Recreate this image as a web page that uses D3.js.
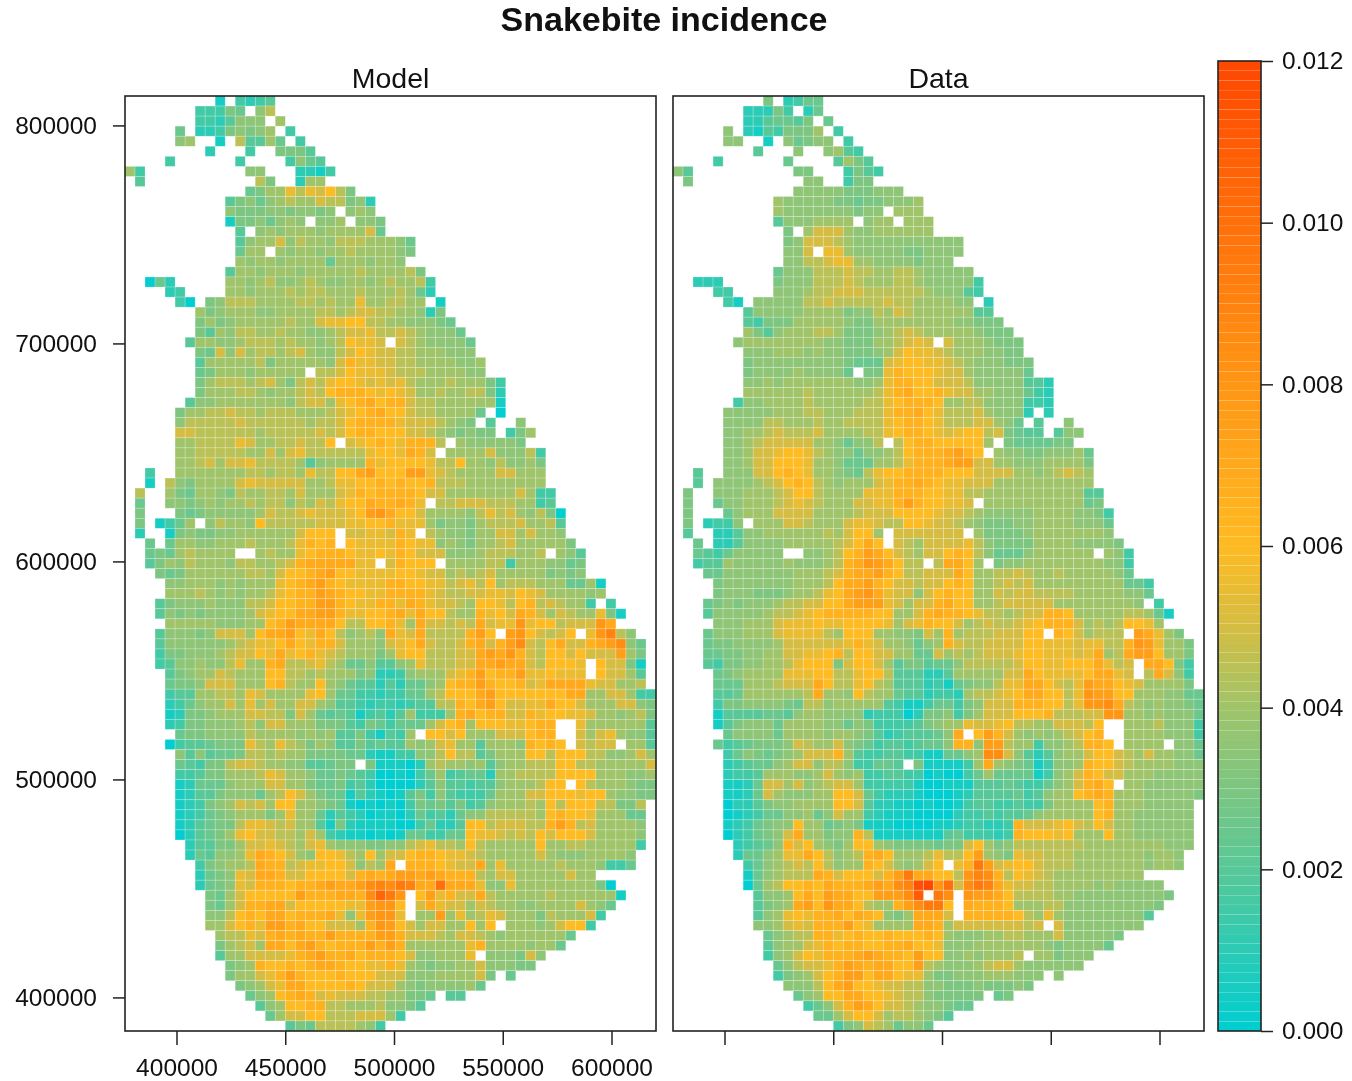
<!DOCTYPE html>
<html>
<head>
<meta charset="utf-8">
<title>Snakebite incidence</title>
<script src="https://cdnjs.cloudflare.com/ajax/libs/d3/7.9.0/d3.min.js"></script>
<style>
  html, body { margin: 0; background: #fff; }
  svg { display: block; font-family: "Liberation Sans", Arial, sans-serif; filter: blur(0.45px); }
</style>
</head>
<body>
<div id="chart"></div>
<script>
// values, one character per grid cell in units of 0.0005
// (0-9 then a-o, "." = no data). Each row starts at the column in rowStart,
// spaces are only there to keep the columns countable.
const rowStart = [9,7,7,5,5,8,4,0,1,12,10,10,10,11,11,11,11,10,2,4,5,7,7,7,6,7,7,7,7,7,6,5,5,5,5,5,5,2,2,1,1,1,1,1,2,2,2,3,4,4,3,3,4,3,3,3,3,4,4,4,4,4,4,5,4,5,5,5,5,5,5,5,5,5,6,6,7,7,7,8,8,8,8,9,9,9,10,10,11,12,13,14,16];

const modelRows = [
"1.3234","33365.79","3324777.8","5.22367678.3","78..1.94485.3","2...3..6664","3......3....3754",
"83..........77...2213","4...........96..288","5688b9bac96","467578988a99672","76667767767.787",
"16675787.778.776","4.78788878888a5","4788a7988799988875","588.87887889888876","87887888858887887",
"48878887888889888896","052..... 88789 77898 77887 89889 3","23.... 88788 89899 88898 88985 2",
"30. 67999 88889 98988 b8899 88 .1","86788 87788 88998 9aa99 88726","68678 88889 88abb cc998 877765",
"64879 98898 87789 aab99 a987775","4 88778 99989 88789 cbba . a9877775","65a7a 89989 a8779 acbaa 99888 777",
"48888 89688 8887a dbbaa 99888 8778","56888 78888 8.99a cbbba 99988 8877","68999 89a86 9a9bc cbaba b9888 988863",
"68889 98788 9a9cd ddcbc ba889 889962","4 77888 88887 9aa8b cdecd da998 888881","68 899a9 98999 8889a bcdec ca998 8885 .0",
"79 9999a 99999 9899a cdddd baaa9 876 .4..7","aa 99999 98999 99a9a cddcc caa98 76766 . 368","88 9999b a8899 a99c. abcdc bddd9 .8777 776",
"88 99999 88a8a b9999 99bcc beda. 8888a 77793","88 9a8aa b9999 84788 88dbc cccb9 9c887 97786",
"3.. 88 88888 99899 8b99c cefcc cffba 98888 aa888","1.9 76 8888a baaaa a889b bccdc dccd9 99888 88888",
"9..8 65 88769 88998 a888a bdcdd ddcaa 88888 88a833","5..7 76 78788 98997 98a9b ccedd edb.9 9aaa9 998834",
"6... 65 67777 78a99 abaaa bcfge cca88 8879b 9a87960","6.1358. 7988 7c999 99aaa bbccd bbb86 77689 99a8894",
"2..1 67 66778 88888 accc. aabba db.98 77688 aa8a887","5.5 88 77888 98889 bdcd. cbbbb dcbb7 87688 9a888886",
"565 89 8888. .8988 bcddd cbbcb dcaaa 77789 99889.874","46879 88879 9889a deeee ebb.a dccc. 88889 938887756",
"6568 88888 998ac cdefc cbbbb ccbaa 8989a 888886767","778 88787 888bc defdc bbbbd dccbb 9ab9c 89998885581",
"888 98787 889bc ddfed ccbbd dddba 99aab bacba888878","4677 78777 99acc ddffd cbbdd bedba a98cc b9cd9a9883.3",
"4767 67777 8abcc eeffd bbccd ebecc 988db caeda8a988b61","888 88777 88cdf eeeec 99ccd b8eaa 9a9ea bbgbcc9aaage",
"4777 67aaa 8ceef cbec9 7897e bae99 99dfc .fgca9ac.bgi97","4777 77789 abbce cbdda 8887a bcea9 9adea dfha9ceaadefh75",
"3667 7789a acbeb cdba9 88868 bcc99 9aaef egda9ccacaaaf86","3477 8779b 88de9 9ab98 55744 78b99 9aaee feea9cccb.caa61",
"467 88a98 88cc9 98988 86722 37888 abdfc ddfbbcbbb.caa84","566 7aaa8 88cd9 88c87 54424 25578 cddfd ccdabeeeebaa889",
"344 88998 ba888 8bc85 53323 35589 cccef cccccccee88aa833","235 788a8 b8a88 aa874 43233 23449 9dcef caabbecca888aa76",
"126 67888 aa996 a8545 41342 48333 8decd daadbccbba887896","236 67778 97aa8 88666 43653 5558a cd8cc cbbcdd..b8888884",
"56 67777 98888 78784 46314 38.cc ac888 aaacdd..a8ab8774","034 45666 b98b9 86874 46454 4878a b8848 887dcdc.a9aa.884",
"74 74556 99898 86666 55211 33779 c9946 888cc9ccc99778a8","54 3669a a9887 74456 6.611 10289 88784 788999cc9988888a",
"33 46688 89ba8 87556 54300 10358 34552 889999cccc888778","12 55578 88aa8 86556 34200 00247 44344 78889cc.c9888766",
"12 44677 7589c a8655 14210 14637 43335 888aacccbcc87766","12 3678a 9a8cc 88765 10101 03656 46347 88898c9ccc99669",
"12 35678 8868b 88524 32011 02534 25779 99998cdccb88855","12 45669 bba9a 88416 21111 00352 24cc9 aaa99dfd9a88887",
"02 4568b caa99 8a832 11010 15533 55cbb a9a9caccca88887","2 44668 aaba9 8ab87 77667 79ab9 98c98 8888c8899888883",
"2 54778 bedca 87ccb 98c8a acddc bba98 8888a877788887","36788 9edd9 abbcc a798e .dddc baae8 b8888898887335",
"2567b aeeda acccc adede ffefe ddd98 aa88888a88","2567b adddc ddefe efhih jieek eeeb7 7b8888888860",
"658a ccccc fddde edhlj g.cfb daae9 8888898888881","658a ddeea ccccc bbfgg c.aeb aa8a9 88778888a875",
"779c dceec dddeb 7bfgg b.88f 8b89b a88869888a3","88ac dbffd eccaa a8dgf ca8aa 88c8c .88878acc3",
"899 baded eddfd dddff daaa9 8aa98 78888885","689 a8eec efdcd ddfdf d8888 88bd8 8887885",
"488 aaaab defdd ecddd ca778 88b.7 776a7","67 8dccd cdeed ccbbd b8767 788a7 7766",
"68 8abdf dcccd cccaa a7778 888a6 .5","6 78abe ecccc dcaaa 87677 7785",
"578cd edaba aa998 8665 .44","478c cdd99 88897 764","58a acc99 9aaa8 3","4 65999 9873"
];

const dataRows = [
"6.2355","22263.25","2245546.5","7.21436668.3","77..1.75677.3","4...7..7843","3......5....4864",
"74..........66...3643","6...........77..366","77777666777","877777665667778","87777777677.888",
"47778888.788.888","6.8aaa877888888","67aaa9877777777777","77a.bb877777667777","7799abb8877776777",
"57779 99a99 88998 77777","222..... 67779 99a98 88998 77777 3","33.... 77789 9aaa9 99999 87774 3",
"31. 77777 99a99 999a9 98888 77.2","47777 78888 67798 a9888 88844","43666 88888 76688 88888 87766 6",
"86478 88998 66678 9a988 88876 66","7 88888 88877 66688 9aba. a8887 666","77788 87877 66678 acbba 98887 766",
"67777 77777 6555a bccbb a9877 7666","67777 87777 5.66b dcccb aa877 7775","77878 88888 8778b ddcca aa977 777442",
"88888 89888 8889b deccd baa88 777532","3 77888 89888 8899b cdddc 88997 777332","77 77788 89988 8999b ddecb 999a8 7772.2",
"77 77998 88988 9999b cddcb 999aa 875 .4..7","77 889a9 99a88 8899b cddcb abcc9 a6544 .477","77 89aaa aa887 5779. 9cddc cccc8 .6555 566",
"77 8aabc cb987 75778 9cddd efdc. 87766 77785","77 8aacc cb887 55588 9bddd effaa 88777 88886",
"4.. 77 7aacd cb887 659bc cdddd cccaa aa887 89a98","4.7 77 789ac dc987 888ab ddedc bbaaa 88888 88888",
"6..7 77 8889a cc988 88bbb dddcc bb998 88888 888844","6..5 77 8889a ba988 8aabb dfdcc bba.8 88888 888856",
"6... 57 888aa aa888 89aaa ccccb aa987 77778 8887763","6.2337. 888a a9888 abba9 9ccba a9876 66778 8887775",
"4..2 24 77888 88898 acc8. aaaaa aa.86 66678 8888887","5.2 24 77778 88889 acec. a98aa aab97 66668 88877776",
"543 57 7777. .7789 cdfec a98aa cdc97 55578 88888.873","344 87 77778 77789 degfe c99.9 eec8. 67788 888888773",
"5577 77777 8889a deefd c99aa aec88 99a98 898888875","677 77777 8889c eefdc aa9aa cdc88 9a9a8 88888888553",
"677 76667 889bc efgeb aa7ac dcc88 a9aa9 99988888775","5676 77789 9aacc efffb a8aad ecc88 9aaaa a888888887.3",
"4777 77899 abcdd dddcc 88ade ddcb9 989aa ddc88888 99851","777 888ab bbcbb ccccb 8abdc ca89a 99abc ddda8989ccb8",
"5777 888ab bbb98 ccc88 776a8 d8999 aaacc .dca8999.feb86","5667 7778a aaaaa bdba8 87578 da99a aaacc bbbabb99dgfb886",
"5566 7788a abbcd 9ccaa 8855a 8989a aabcc bbbabe89effc886","4366 77889 bccc6 acca8 46645 57999 99acc bbccceb9a.eec63",
"567 8888b bbcc9 9bcc9 44422 48888 8aaec bbbbceeba.9ea73","555 8889a aaec9 9bc98 44423 15677 9bbee ca9bfeecba88886",
"445 88888 89e88 7c988 54423 32899 abcee cc9bgffcc8887755","366 77776 59978 88884 31135 5367a aaddd cc9bgghe98787765",
"144 44554 78877 77233 30266 7368a aaccc d999aagg88787775","146 77758 88877 57633 33467 88baa bc998 8aaa9c..88897773",
"57 77758 88878 87642 34445 7e.cf da878 789acd..88887773","534 56667 a988a 76534 43455 7dd7f f9883 7789ddc.8888.775",
"35 76567 8aaad 84334 43311 5578h ha742 4788acca98a88775","23 45578 aa799 73355 4.611 1138e 87651 3778dcca98888777",
"23 34888 778a8 78334 43301 00358 55551 378adcaa88877777","11 25aa8 a789a a8333 33100 11144 45433 578adec.88777777",
"11 25a87 7788c ca532 22100 01244 44534 788cded888777776","02 24677 8888c ca422 11010 01344 33433 68888cd88877777",
"01 23557 7857a 88321 11000 02334 34457 88888cd88777777","12 35677 c8856 76111 00001 12332 23daa abca9ca88777777",
"02 3567a e8867 7d911 11111 45333 23dcc cbc888c88777777","2 3457d ac876 8cc87 66665 66ac8 67999 999988888888777",
"2 5578b bec97 89dec 8889b 99cf8 76baa 99988888887887","35789 a9c97 88dca 878ac .bdjf abcca 99988888887887",
"15789 99eda cccad fjeec c9gih d9cba 9888888888","0589c cdced ddefe hinog kahji ebaa9 988887877777",
"4778 cecfe eccff fhm.j h.gff ec999 9887777777776","4678 efcge ec988 dfhjj c.edd dc888 997777777776",
"478b cbdde cedc7 68eee a.ddd ddc98 b8777777774","778a baddd fcb88 88eed 8aaaa aaa9a .a77777777",
"578 99ddb cdccd cccdc 87778 89988 8a777776","478 8abdc ddccd deccb 77788 88888 7677775",
"378 acbdd defed dcfcc 77878 889.8 86777","57 9aabd fedee ccf98 77789 aa877 7777",
"36 78acd ffcee cbb86 67778 88777 .7","7 779ce fccba a9977 66676 6676",
"578cc eeccb a9976 6666 .56","357a dfeca a9877 655","558 acca8 99876 4","3 67a98 5775"
];

const panelNames = ["Model", "Data"];
const xTicks = [400000, 450000, 500000, 550000, 600000];
const yTicks = [400000, 500000, 600000, 700000, 800000];
const legendTicks = [0, 0.002, 0.004, 0.006, 0.008, 0.01, 0.012];

const colorStops = [0, 0.002, 0.004, 0.005, 0.006, 0.008, 0.01, 0.012];
const colorValues = ["#00ced1", "#58c898", "#a0c46a", "#d4bd42", "#ffbb22", "#ff9614", "#ff700a", "#ff4700"];

const nCols = 53;
const nRows = 93;
const levelStep = 0.0005;
const xLim = [376092, 620230];
const yLim = [384600, 813500];
const panelWidth = 531;
const panelTop = 96, panelBottom = 1031;

const svg = d3.select("#chart").append("svg")
  .attr("width", 1352)
  .attr("height", 1081);

const color = d3.scaleLinear().domain(colorStops).range(colorValues);
const y = d3.scaleLinear().domain(yLim).range([panelBottom, panelTop]);
const cellH = (yLim[1] - yLim[0]) / nRows;
const cellW = (xLim[1] - xLim[0]) / nCols;

svg.append("text")
  .attr("x", 664).attr("y", 31)
  .attr("text-anchor", "middle")
  .attr("font-size", 34).attr("font-weight", "bold")
  .attr("fill", "#111")
  .text("Snakebite incidence");

function decode(rows) {
  const cells = [];
  rows.forEach((row, r) => {
    row.replace(/ /g, "").split("").forEach((ch, i) => {
      if (ch !== ".") {
        cells.push({ col: rowStart[r] + i, row: r, value: parseInt(ch, 36) * levelStep });
      }
    });
  });
  return cells;
}

function styleAxis(sel) {
  sel.select(".domain").remove();
  sel.selectAll("line").attr("stroke", "#222").attr("stroke-width", 1.5);
  sel.selectAll("text").attr("font-size", 24.5).attr("fill", "#111");
  sel.attr("font-family", null);
}

function drawPanel(rows, name, left, showLabels) {
  const x = d3.scaleLinear().domain(xLim).range([left, left + panelWidth]);
  const g = svg.append("g");

  g.selectAll("rect")
    .data(decode(rows))
    .enter()
    .append("rect")
    .attr("x", d => x(xLim[0] + d.col * cellW))
    .attr("y", d => y(yLim[1] - d.row * cellH))
    .attr("width", x(xLim[0] + cellW) - x(xLim[0]))
    .attr("height", y(yLim[1] - cellH) - y(yLim[1]))
    .attr("fill", d => color(d.value))
    .attr("stroke", "#fff")
    .attr("stroke-opacity", 0.3)
    .attr("stroke-width", 0.7);

  g.append("rect")
    .attr("x", left).attr("y", panelTop)
    .attr("width", panelWidth).attr("height", panelBottom - panelTop)
    .attr("fill", "none")
    .attr("stroke", "#222")
    .attr("stroke-width", 1.6);

  g.append("text")
    .attr("x", left + panelWidth / 2).attr("y", 88)
    .attr("text-anchor", "middle")
    .attr("font-size", 28.5)
    .attr("fill", "#111")
    .text(name);

  const ax = svg.append("g")
    .attr("transform", `translate(-0.5,${panelBottom})`)
    .call(d3.axisBottom(x).tickValues(xTicks).tickSize(14)
      .tickFormat(showLabels ? d3.format("d") : ""));
  styleAxis(ax);
  ax.selectAll("text").attr("y", 28);

  if (showLabels) {
    const ay = svg.append("g")
      .attr("transform", `translate(${left},0)`)
      .call(d3.axisLeft(y).tickValues(yTicks).tickSize(12).tickFormat(d3.format("d")));
    styleAxis(ay);
    ay.selectAll("text").attr("x", -28);
  }
}

drawPanel(modelRows, panelNames[0], 125, true);
drawPanel(dataRows, panelNames[1], 673, false);

// colour key
const keyY = d3.scaleLinear().domain([0, 0.012]).range([panelBottom, 61]);
const keyStep = 0.012 / 100;
const key = svg.append("g");
key.selectAll("rect")
  .data(d3.range(100).map(i => i * keyStep))
  .enter()
  .append("rect")
  .attr("x", 1218)
  .attr("y", d => keyY(d + keyStep))
  .attr("width", 43)
  .attr("height", keyY(0) - keyY(keyStep))
  .attr("fill", d => color(d + keyStep / 2))
  .attr("stroke", "#fff")
  .attr("stroke-opacity", 0.12)
  .attr("stroke-width", 0.5);
key.append("rect")
  .attr("x", 1218).attr("y", 61)
  .attr("width", 43).attr("height", panelBottom - 61)
  .attr("fill", "none")
  .attr("stroke", "#222")
  .attr("stroke-width", 1.6);

const ak = svg.append("g")
  .attr("transform", "translate(1261,0)")
  .call(d3.axisRight(keyY).tickValues(legendTicks).tickSize(12).tickFormat(d3.format(".3f")));
styleAxis(ak);
ak.selectAll("text").attr("x", 21);
</script>
</body>
</html>
